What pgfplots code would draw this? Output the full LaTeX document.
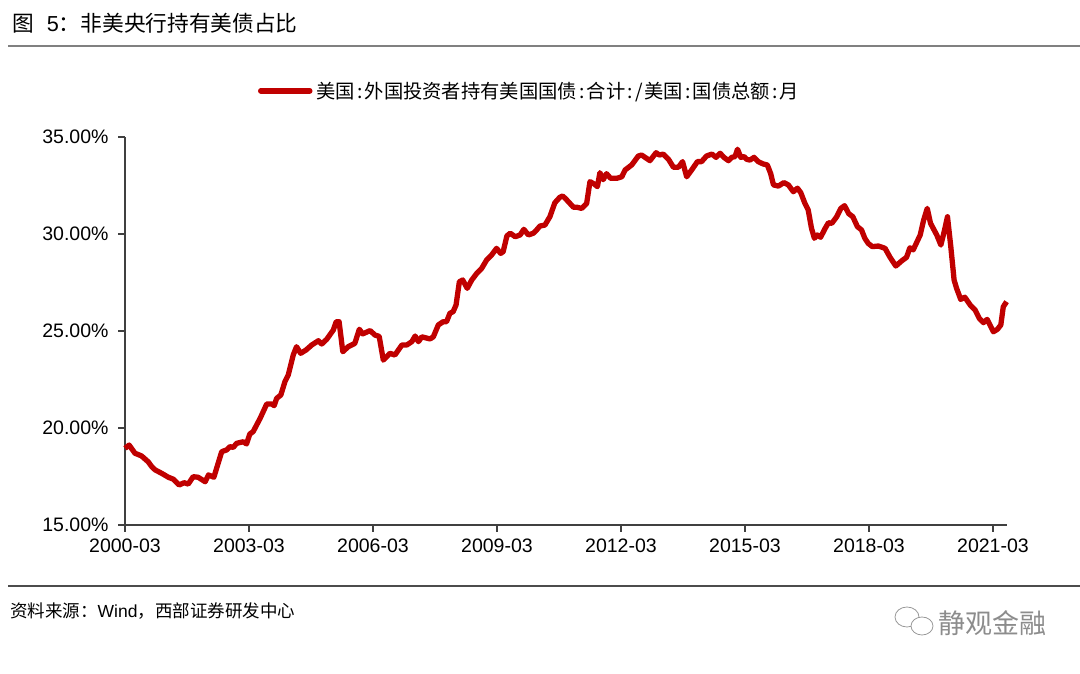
\documentclass[border=0pt]{standalone}
\usepackage{fontspec}
\setmainfont{Liberation Sans}
\newfontfamily\cjk{Noto Sans CJK SC}
\usepackage{pgfplots}
\pgfplotsset{compat=1.18}
\definecolor{serred}{HTML}{C00000}
\definecolor{axgray}{HTML}{404040}
\newcommand{\hc}[1]{\makebox[0.5em]{#1}}

\pgfplotstableread{
x y
0.00 18.95
0.10 19.12
0.24 18.70
0.40 18.56
0.56 18.26
0.65 18.00
0.73 17.84
0.89 17.66
1.05 17.46
1.17 17.36
1.31 17.06
1.43 17.18
1.53 17.11
1.65 17.49
1.77 17.46
1.94 17.23
2.02 17.58
2.15 17.46
2.34 18.78
2.46 18.87
2.54 19.04
2.62 19.00
2.70 19.21
2.86 19.29
2.94 19.18
3.02 19.69
3.10 19.81
3.27 20.50
3.43 21.24
3.55 21.24
3.61 21.15
3.67 21.53
3.77 21.70
3.87 22.39
3.95 22.73
4.07 23.76
4.15 24.19
4.25 23.85
4.38 24.02
4.52 24.28
4.68 24.50
4.76 24.33
4.88 24.57
5.04 25.05
5.11 25.48
5.18 25.48
5.27 23.93
5.40 24.19
5.56 24.36
5.67 25.09
5.75 24.85
5.93 25.02
6.05 24.79
6.15 24.72
6.25 23.50
6.41 23.85
6.53 23.76
6.70 24.28
6.82 24.28
6.94 24.45
7.02 24.74
7.10 24.45
7.18 24.70
7.38 24.59
7.46 24.70
7.58 25.31
7.70 25.48
7.78 25.48
7.86 25.91
7.94 26.00
8.01 26.34
8.09 27.54
8.17 27.63
8.28 27.20
8.39 27.63
8.51 27.97
8.63 28.23
8.75 28.66
8.87 28.92
8.99 29.26
9.09 29.00
9.15 29.09
9.24 29.90
9.32 30.04
9.44 29.86
9.56 29.95
9.65 30.24
9.76 29.95
9.88 30.04
9.96 30.21
10.04 30.41
10.16 30.46
10.28 30.89
10.40 31.61
10.52 31.89
10.59 31.96
10.69 31.75
10.85 31.38
10.93 31.38
11.05 31.32
11.17 31.58
11.25 32.70
11.35 32.58
11.43 32.44
11.49 33.16
11.57 32.80
11.65 33.11
11.75 32.87
11.90 32.87
12.02 32.95
12.10 33.30
12.26 33.56
12.42 34.02
12.50 34.07
12.70 33.78
12.85 34.19
12.93 34.07
13.02 34.12
13.15 33.85
13.27 33.44
13.39 33.44
13.49 33.73
13.59 32.95
13.71 33.30
13.85 33.73
13.95 33.73
14.07 34.02
14.20 34.12
14.30 33.95
14.40 34.16
14.49 33.95
14.60 33.78
14.68 33.95
14.76 33.99
14.82 34.37
14.90 33.95
14.98 33.99
15.04 33.85
15.12 33.81
15.22 33.95
15.32 33.73
15.44 33.61
15.54 33.56
15.62 33.13
15.69 32.53
15.81 32.47
15.94 32.65
16.05 32.53
16.17 32.18
16.27 32.36
16.35 32.13
16.45 31.58
16.53 31.24
16.61 30.29
16.68 29.78
16.75 29.95
16.83 29.83
16.94 30.29
17.02 30.58
17.10 30.55
17.22 30.89
17.32 31.32
17.41 31.46
17.51 31.05
17.61 30.89
17.72 30.38
17.82 30.21
17.90 29.78
17.98 29.52
18.08 29.35
18.23 29.38
18.39 29.26
18.51 28.80
18.65 28.35
18.79 28.61
18.91 28.80
18.99 29.29
19.07 29.18
19.24 29.95
19.32 30.69
19.41 31.32
19.49 30.55
19.64 29.95
19.74 29.43
19.82 30.12
19.90 30.89
19.98 29.35
20.06 27.63
20.12 27.20
20.22 26.63
20.32 26.74
20.45 26.34
20.57 26.08
20.67 25.65
20.77 25.43
20.86 25.60
21.01 24.96
21.11 25.09
21.19 25.31
21.25 26.25
21.33 26.51
}\share

\begin{document}
\begin{tikzpicture}[x=1pt,y=1pt]
\useasboundingbox (0,0) rectangle (1080,674);
% title and rules
\node[anchor=west, inner sep=0pt] at (12,650.5) {\fontsize{21.7}{21.7}\selectfont\cjk 图\hspace{0.6em}{\rmfamily 5}：非美央行持有美债占比};
\draw[black!50, line width=1.5pt] (8,628) -- (1080,628);
\draw[black!70, line width=1.5pt] (8,88) -- (1080,88);
% source
\node[anchor=west, inner sep=0pt] at (10,63) {\fontsize{17.5}{17.5}\selectfont\cjk 资料来源：{\rmfamily Wind}，西部证券研发中心};
% watermark
\draw[black!40, line width=0.8pt, fill=white] (907,57) ellipse (12 and 10);
\draw[black!40, line width=0.8pt, fill=white] (922,48) ellipse (11 and 9);
\node[anchor=west, inner sep=0pt, text=black!45] at (938,51) {\fontsize{27}{27}\selectfont\cjk 静观金融};

\begin{axis}[
  at={(125pt,149pt)}, anchor=south west,
  scale only axis, width=882pt, height=388pt,
  xmin=0, xmax=21.34, ymin=15, ymax=35,
  axis x line*=bottom, axis y line*=left,
  axis line style={axgray, line width=1.2pt},
  xtick={0,3,6,9,12,15,18,21},
  xticklabels={2000-03,2003-03,2006-03,2009-03,2012-03,2015-03,2018-03,2021-03},
  ytick={15,20,25,30,35},
  yticklabel={\pgfmathprintnumber[fixed,fixed zerofill,precision=2]{\tick}\%},
  /pgf/number format/assume math mode=true,
  tick align=outside, major tick length=7pt,
  tick style={axgray, line width=1.2pt},
  ticklabel style={font=\fontsize{19.5}{20}\selectfont, text=black},
  xticklabel style={yshift=-3pt},
  yticklabel style={xshift=-6pt},
  legend style={draw=none, fill=none, at={(0.1508,1.119)}, anchor=west,
    inner sep=0pt, outer sep=0pt,
    font=\fontsize{19.3}{20}\selectfont\cjk,
    nodes={inner sep=0pt}},
  legend image code/.code={\draw[#1, line width=5.5pt, line cap=round] (0pt,0pt) -- (49pt,0pt);},
  clip=false,
]
\addplot[serred, line width=5.3pt, line join=round] table[x=x, y=y] {\share};
\addlegendentry{\hspace{4pt}美国\hc{:}外国投资者持有美国国债\hc{:}合计\hc{:}\hc{/}美国\hc{:}国债总额\hc{:}月}
\end{axis}
\end{tikzpicture}
\end{document}
